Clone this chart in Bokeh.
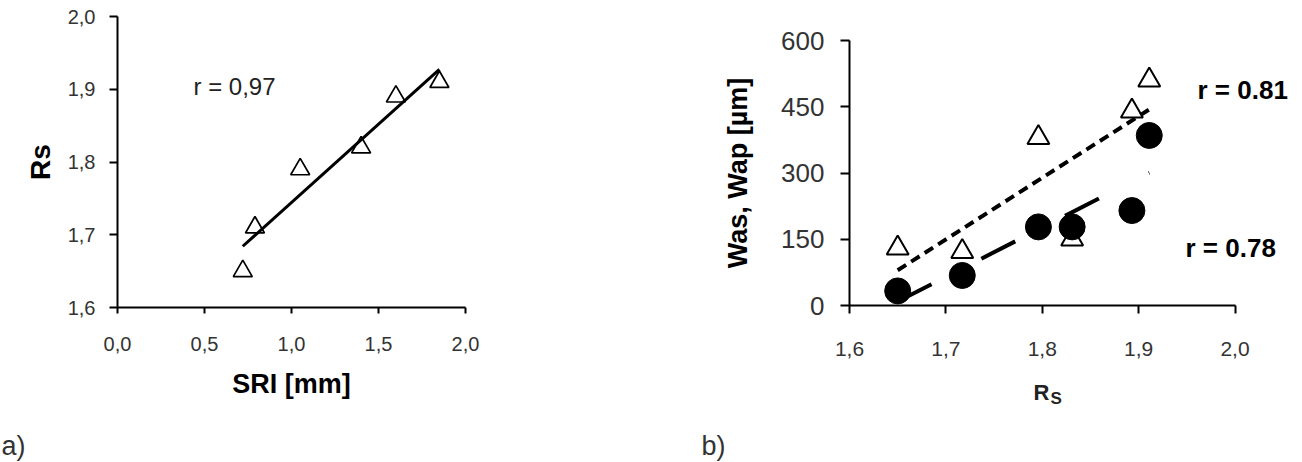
import numpy as np
from bokeh.plotting import figure
from bokeh.models import Range1d, FixedTicker, Label
from bokeh.layouts import row, column
from bokeh.embed import file_html
from bokeh.resources import INLINE

FONT = "Liberation Sans"

# ---------------- data: panel (a) ----------------
sri_mm = [0.72, 0.79, 1.05, 1.40, 1.60, 1.85]
rs_a = [1.65, 1.71, 1.79, 1.82, 1.89, 1.91]
a_x_ticks = [0.0, 0.5, 1.0, 1.5, 2.0]
a_x_labels = ["0,0", "0,5", "1,0", "1,5", "2,0"]
a_y_ticks = [1.6, 1.7, 1.8, 1.9, 2.0]
a_y_labels = ["1,6", "1,7", "1,8", "1,9", "2,0"]
a_r_text = "r = 0,97"

# ---------------- data: panel (b) ----------------
rs_b = [1.65, 1.717, 1.796, 1.831, 1.893, 1.911]
wap_um = [130, 122, 380, 150, 440, 510]     # open triangles
was_um = [33, 68, 178, 178, 215, 385]       # filled circles
b_x_ticks = [1.6, 1.7, 1.8, 1.9, 2.0]
b_x_labels = ["1,6", "1,7", "1,8", "1,9", "2,0"]
b_y_ticks = [0, 150, 300, 450, 600]
b_y_labels = ["0", "150", "300", "450", "600"]
b_r_wap = "r = 0.81"
b_r_was = "r = 0.78"


def trend(xs, ys):
    k, b = np.polyfit(xs, ys, 1)
    x0, x1 = min(xs), max(xs)
    return [x0, x1], [k * x0 + b, k * x1 + b]


def style_axis(ax, ticks, labels, size, tick_out, standoff):
    ax.ticker = FixedTicker(ticks=ticks)
    ax.major_label_overrides = dict(zip(ticks, labels))
    ax.axis_line_width = 2
    ax.axis_line_color = "black"
    ax.major_tick_line_width = 2
    ax.major_tick_line_color = "black"
    ax.major_tick_in = 0
    ax.major_tick_out = tick_out
    ax.minor_tick_line_color = None
    ax.major_label_text_font = FONT
    ax.major_label_text_font_size = f"{size}px"
    ax.major_label_text_color = "#333333"
    ax.major_label_standoff = standoff
    ax.axis_label_text_font = FONT
    ax.axis_label_text_font_style = "bold"
    ax.axis_label_text_color = "black"


def lbl(p, text, x, y, size, bold=False, color="black"):
    p.add_layout(Label(x=x, y=y, x_units="screen", y_units="screen", text=text,
                       text_font=FONT, text_font_size=f"{size}px",
                       text_font_style="bold" if bold else "normal",
                       text_color=color, text_baseline="alphabetic", text_align="left"))


def blank(w, h):
    f = figure(width=w, height=h, x_range=Range1d(0, w), y_range=Range1d(0, h),
               x_axis_location=None, y_axis_location=None, min_border=0,
               output_backend="svg", toolbar_location=None)
    f.grid.visible = False
    f.outline_line_color = None
    return f


# ---------------- panel (a) ----------------
p1 = figure(width=640, height=410, x_range=Range1d(0, 2), y_range=Range1d(1.6, 2.0),
            min_border_left=117, min_border_right=175, min_border_top=16, min_border_bottom=103,
            output_backend="svg", toolbar_location=None)
p1.grid.visible = False
p1.outline_line_color = None
style_axis(p1.xaxis[0], a_x_ticks, a_x_labels, 20, 6, 23)
style_axis(p1.yaxis[0], a_y_ticks, a_y_labels, 20, 8, 14)
p1.xaxis.axis_label = "SRI [mm]"
p1.xaxis.axis_label_text_font_size = "27px"
p1.xaxis.axis_label_standoff = 15
p1.yaxis.axis_label = "Rs"
p1.yaxis.axis_label_text_font_size = "28px"
p1.yaxis.axis_label_standoff = 9

tx, ty = trend(sri_mm, rs_a)
p1.line(tx, ty, line_width=3, line_color="black")
p1.scatter(sri_mm, rs_a, marker="triangle", size=19, fill_color=None,
           line_color="black", line_width=1.7)
lbl(p1, a_r_text, 76, 221, 24, color="#222222")

p1b = blank(640, 52)
lbl(p1b, "a)", 1, 17, 27, color="#333333")

# ---------------- panel (b) ----------------
p2 = figure(width=662, height=380, x_range=Range1d(1.6, 2.07), y_range=Range1d(0, 600),
            min_border_left=209, min_border_right=0, min_border_top=40, min_border_bottom=75,
            output_backend="svg", toolbar_location=None)
p2.grid.visible = False
p2.outline_line_color = None
style_axis(p2.xaxis[0], b_x_ticks, b_x_labels, 21, 8, 28)
style_axis(p2.yaxis[0], b_y_ticks, b_y_labels, 26, 9, 16)
p2.xaxis.bounds = (1.6, 2.0)
p2.yaxis.axis_label = "Was, Wap [µm]"
p2.yaxis.axis_label_text_font_size = "27px"
p2.yaxis.axis_label_standoff = 25

wx, wy = trend(rs_b, wap_um)
p2.line(wx, wy, line_width=4, line_color="black", line_dash="10 6")
sx, sy = trend(rs_b, was_um)
p2.line(sx, sy, line_width=4, line_color="black", line_dash="38 56")
p2.scatter(rs_b, wap_um, marker="triangle", size=22, fill_color=None,
           line_color="black", line_width=2)
p2.scatter(rs_b, was_um, marker="circle", size=26, fill_color="black", line_color="black")

lbl(p2, b_r_wap, 348, 216, 26, bold=True)
lbl(p2, b_r_was, 336, 58, 26, bold=True)

p2b = blank(662, 82)
lbl(p2b, "R", 393, 70, 22, bold=True, color="#222222")
lbl(p2b, "S", 410, 64, 17, bold=True, color="#222222")
lbl(p2b, "b)", 61, 17, 27, color="#333333")

layout = row(column(p1, column(p1b)), column(p2, column(p2b)))
open("out.html", "w").write(file_html(layout, INLINE))
